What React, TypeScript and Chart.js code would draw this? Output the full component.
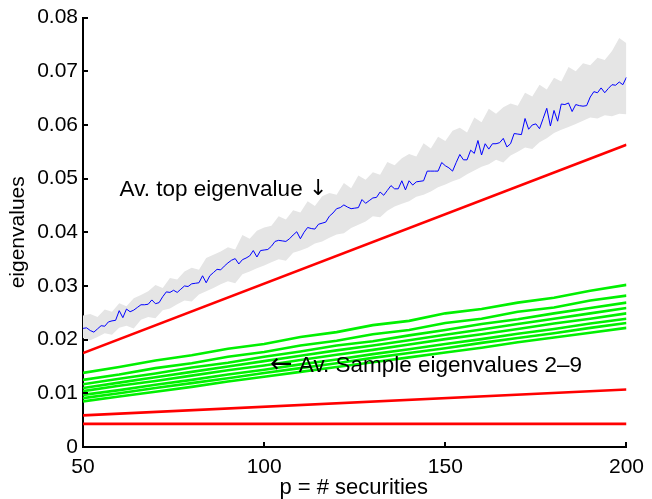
import React, { useEffect, useRef } from "react";
import { Chart, registerables } from "chart.js";

Chart.register(...registerables);

// ---------- data ----------
const xTicks = [50, 100, 150, 200];
const yTicks = [0, 0.01, 0.02, 0.03, 0.04, 0.05, 0.06, 0.07, 0.08];

// p = 50 .. 200 (one value per p)
const blueStartP = 50;
const avTopEigen = [
  0.0221, 0.0222, 0.0217, 0.0214, 0.0220, 0.0226, 0.0225, 0.0233, 0.0235, 0.0236,
  0.0254, 0.0241, 0.0257, 0.0252, 0.0255, 0.0260, 0.0265, 0.0265, 0.0266, 0.0274,
  0.0267, 0.0269, 0.0280, 0.0289, 0.0288, 0.0292, 0.0288, 0.0294, 0.0300, 0.0299,
  0.0304, 0.0305, 0.0306, 0.0319, 0.0306, 0.0319, 0.0325, 0.0331, 0.0330, 0.0337,
  0.0343, 0.0348, 0.0351, 0.0341, 0.0349, 0.0352, 0.0356, 0.0366, 0.0354, 0.0366,
  0.0367, 0.0368, 0.0374, 0.0383, 0.0385, 0.0384, 0.0383, 0.0388, 0.0395, 0.0401,
  0.0388, 0.0400, 0.0409, 0.0407, 0.0406, 0.0415, 0.0417, 0.0419, 0.0430, 0.0436,
  0.0444, 0.0446, 0.0451, 0.0447, 0.0444, 0.0445, 0.0446, 0.0461, 0.0454, 0.0459,
  0.0464, 0.0465, 0.0475, 0.0469, 0.0478, 0.0487, 0.0481, 0.0481, 0.0496, 0.0479,
  0.0496, 0.0488, 0.0494, 0.0495, 0.0496, 0.0514, 0.0514, 0.0514, 0.0514, 0.0530,
  0.0524, 0.0520, 0.0514, 0.0530, 0.0545, 0.0535, 0.0535, 0.0553, 0.0547, 0.0571,
  0.0544, 0.0565, 0.0555, 0.0565, 0.0565, 0.0567, 0.0575, 0.0559, 0.0565, 0.0584,
  0.0583, 0.0582, 0.0612, 0.0592, 0.0600, 0.0602, 0.0593, 0.0612, 0.0631, 0.0598,
  0.0627, 0.0607, 0.0639, 0.0638, 0.0641, 0.0625, 0.0638, 0.0636, 0.0635, 0.0636,
  0.0652, 0.0662, 0.0660, 0.0669, 0.0660, 0.0668, 0.0675, 0.0674, 0.0680, 0.0675,
  0.0689,
];

// band p = 50 .. 200 step 2
const bandStep = 2;
const bandUpper = [
  0.0245, 0.0248, 0.0242, 0.0256, 0.0252, 0.0268, 0.0262, 0.0277, 0.0283, 0.0290,
  0.0302, 0.0296, 0.0315, 0.0312, 0.0327, 0.0334, 0.0330, 0.0352, 0.0358, 0.0364,
  0.0372, 0.0368, 0.0395, 0.0388, 0.0403, 0.0409, 0.0412, 0.0430, 0.0424, 0.0441,
  0.0437, 0.0458, 0.0449, 0.0467, 0.0473, 0.0470, 0.0492, 0.0482, 0.0506, 0.0498,
  0.0512, 0.0507, 0.0531, 0.0525, 0.0538, 0.0546, 0.0541, 0.0566, 0.0556, 0.0578,
  0.0570, 0.0589, 0.0595, 0.0586, 0.0614, 0.0605, 0.0630, 0.0621, 0.0633, 0.0640,
  0.0636, 0.0660, 0.0653, 0.0675, 0.0666, 0.0688, 0.0681, 0.0708, 0.0700, 0.0715,
  0.0711, 0.0725, 0.0721, 0.0738, 0.0762, 0.0752,
];
const bandLower = [
  0.0203, 0.0199, 0.0205, 0.0212, 0.0209, 0.0222, 0.0226, 0.0221, 0.0237, 0.0242,
  0.0240, 0.0255, 0.0258, 0.0266, 0.0273, 0.0271, 0.0284, 0.0290, 0.0296, 0.0303,
  0.0309, 0.0305, 0.0322, 0.0327, 0.0333, 0.0338, 0.0344, 0.0350, 0.0347, 0.0362,
  0.0366, 0.0371, 0.0379, 0.0383, 0.0390, 0.0396, 0.0398, 0.0408, 0.0414, 0.0420,
  0.0430, 0.0428, 0.0440, 0.0448, 0.0453, 0.0458, 0.0466, 0.0470, 0.0476, 0.0484,
  0.0489, 0.0495, 0.0500, 0.0508, 0.0515, 0.0522, 0.0527, 0.0535, 0.0530, 0.0543,
  0.0550, 0.0558, 0.0555, 0.0568, 0.0575, 0.0585, 0.0591, 0.0596, 0.0602, 0.0608,
  0.0614, 0.0612, 0.0618, 0.0616, 0.0621, 0.0620,
];

// sample eigenvalues 2..9, p = 50 .. 200 step 10
const greenStep = 10;
const eig2 = [0.0138, 0.0149, 0.0161, 0.0171, 0.0183, 0.0192, 0.0205, 0.0214, 0.0227, 0.0235, 0.0249, 0.0257, 0.0269, 0.0278, 0.0291, 0.0302];
const eig3 = [0.0125, 0.0135, 0.0147, 0.0156, 0.0168, 0.0177, 0.0189, 0.0198, 0.0210, 0.0218, 0.0231, 0.0239, 0.0252, 0.0260, 0.0273, 0.0282];
const eig4 = [0.0117, 0.0127, 0.0137, 0.0148, 0.0157, 0.0168, 0.0178, 0.0189, 0.0197, 0.0208, 0.0218, 0.0229, 0.0238, 0.0249, 0.0259, 0.0269];
const eig5 = [0.0110, 0.0120, 0.0130, 0.0140, 0.0150, 0.0160, 0.0170, 0.0180, 0.0189, 0.0199, 0.0209, 0.0219, 0.0229, 0.0239, 0.0249, 0.0259];
const eig6 = [0.0104, 0.0114, 0.0123, 0.0133, 0.0143, 0.0152, 0.0162, 0.0172, 0.0181, 0.0191, 0.0201, 0.0210, 0.0220, 0.0230, 0.0239, 0.0249];
const eig7 = [0.0097, 0.0106, 0.0116, 0.0125, 0.0135, 0.0144, 0.0154, 0.0163, 0.0173, 0.0182, 0.0192, 0.0201, 0.0211, 0.0220, 0.0230, 0.0239];
const eig8 = [0.0091, 0.0100, 0.0110, 0.0119, 0.0128, 0.0138, 0.0147, 0.0156, 0.0166, 0.0175, 0.0184, 0.0194, 0.0203, 0.0212, 0.0222, 0.0231];
const eig9 = [0.0085, 0.0094, 0.0103, 0.0112, 0.0122, 0.0131, 0.0140, 0.0149, 0.0158, 0.0167, 0.0176, 0.0185, 0.0195, 0.0204, 0.0213, 0.0222];

// red reference lines, p = 50 and 200
const redP = [50, 200];
const redTop = [0.0175, 0.0563];
const redMid = [0.0059, 0.0107];
const redLow = [0.0043, 0.0043];

const annotTop = { p: 60.1, v: 0.048, text: "Av. top eigenvalue ", arrowAfter: "\u2193" };
const annotSample = { p: 101.6, v: 0.0152, arrowBefore: "\u2190", text: " Av. Sample eigenvalues 2\u20139" };

const FONT = '"Liberation Sans", Arial, Helvetica, sans-serif';
const ARROW_FONT = '"DejaVu Sans", sans-serif';

const toPts = (start: number, step: number, ys: number[]) =>
  ys.map((y, i) => ({ x: start + i * step, y }));
const toPtsX = (xs: number[], ys: number[]) => ys.map((y, i) => ({ x: xs[i], y }));

export default function App() {
  const ref = useRef<HTMLCanvasElement | null>(null);

  useEffect(() => {
    if (!ref.current) return;

    const line = (data: any[], color: string, width: number) => ({
      data,
      borderColor: color,
      borderWidth: width,
      pointRadius: 0,
      tension: 0,
      fill: false,
    });

    const greens = [eig2, eig3, eig4, eig5, eig6, eig7, eig8, eig9].map((g) =>
      line(toPts(50, greenStep, g), "#00f000", 2.6)
    );

    const decor = {
      id: "decor",
      afterDraw(chart: any) {
        const ctx = chart.ctx;
        const xs = chart.scales.x;
        const ys = chart.scales.y;
        const area = chart.chartArea;
        ctx.save();
        ctx.strokeStyle = "#000";
        ctx.lineWidth = 2;
        ctx.beginPath();
        yTicks.forEach((t) => {
          const y = Math.round(ys.getPixelForValue(t));
          ctx.moveTo(area.left, y);
          ctx.lineTo(area.left + 5, y);
        });
        xTicks.forEach((t) => {
          const x = Math.round(xs.getPixelForValue(t));
          ctx.moveTo(x, area.bottom);
          ctx.lineTo(x, area.bottom - 5);
        });
        ctx.stroke();

        ctx.fillStyle = "#000";
        ctx.textBaseline = "middle";
        ctx.textAlign = "left";
        const tf = `22.5px ${FONT}`;

        // annotation 1
        let x = xs.getPixelForValue(annotTop.p);
        let y = ys.getPixelForValue(annotTop.v);
        ctx.font = tf;
        ctx.fillText(annotTop.text, x, y);
        x += ctx.measureText(annotTop.text).width;
        ctx.font = `22px ${ARROW_FONT}`;
        ctx.fillText(annotTop.arrowAfter, x, y);

        // annotation 2
        x = xs.getPixelForValue(annotSample.p);
        y = ys.getPixelForValue(annotSample.v);
        ctx.font = `27px ${ARROW_FONT}`;
        ctx.fillText(annotSample.arrowBefore, x, y);
        x += ctx.measureText(annotSample.arrowBefore).width;
        ctx.font = tf;
        ctx.fillText(annotSample.text, x, y);

        ctx.font = `22px ${FONT}`;
        ctx.textAlign = "center";
        ctx.fillText("p = # securities", (area.left + area.right) / 2 - 1, 488);
        ctx.font = `21px ${FONT}`;
        ctx.translate(18, (area.top + area.bottom) / 2);
        ctx.rotate(-Math.PI / 2);
        ctx.fillText("eigenvalues", 0, 0);
        ctx.restore();
      },
    };

    const chart = new Chart(ref.current, {
      type: "line",
      data: {
        datasets: [
          // Chart.js paints the first dataset on top
          line(toPts(blueStartP, 1, avTopEigen), "#0000ff", 1),
          line(toPtsX(redP, redTop), "#ff0000", 2.6),
          line(toPtsX(redP, redMid), "#ff0000", 2.6),
          line(toPtsX(redP, redLow), "#ff0000", 2.6),
          ...greens,
          {
            ...line(toPts(50, bandStep, bandUpper), "rgba(0,0,0,0)", 0),
            fill: "+1",
            backgroundColor: "#e5e5e5",
          },
          line(toPts(50, bandStep, bandLower), "rgba(0,0,0,0)", 0),
        ] as any,
      },
      options: {
        animation: false,
        responsive: false,
        devicePixelRatio: 1,
        layout: { padding: { left: 0, top: 15, right: 20, bottom: 0 } },
        plugins: { legend: { display: false }, tooltip: { enabled: false } },
        scales: {
          x: {
            type: "linear",
            min: 50,
            max: 200,
            grid: { display: true, drawOnChartArea: false, drawTicks: false },
            border: { display: true, color: "#000", width: 2 },
            ticks: { color: "#000", font: { family: FONT, size: 21 }, padding: 8, maxRotation: 0 },
            afterBuildTicks: (s: any) => {
              s.ticks = xTicks.map((v) => ({ value: v }));
            },
            afterFit: (s: any) => {
              s.height = 52;
            },
          },
          y: {
            type: "linear",
            min: 0,
            max: 0.08,
            grid: { display: true, drawOnChartArea: false, drawTicks: false },
            border: { display: true, color: "#000", width: 2 },
            ticks: {
              color: "#000",
              font: { family: FONT, size: 21 },
              padding: 5,
              callback: (v: any) => (v === 0 ? "0" : Number(v).toFixed(2)),
            },
            afterBuildTicks: (s: any) => {
              s.ticks = yTicks.map((v) => ({ value: v }));
            },
            afterFit: (s: any) => {
              s.width = 83;
            },
          },
        },
      } as any,
      plugins: [decor],
    });
    return () => chart.destroy();
  }, []);

  return (
    <div style={{ position: "absolute", left: 0, top: 0, width: 652, height: 499, background: "#fff" }}>
      <canvas ref={ref} width={652} height={499} />
    </div>
  );
}
